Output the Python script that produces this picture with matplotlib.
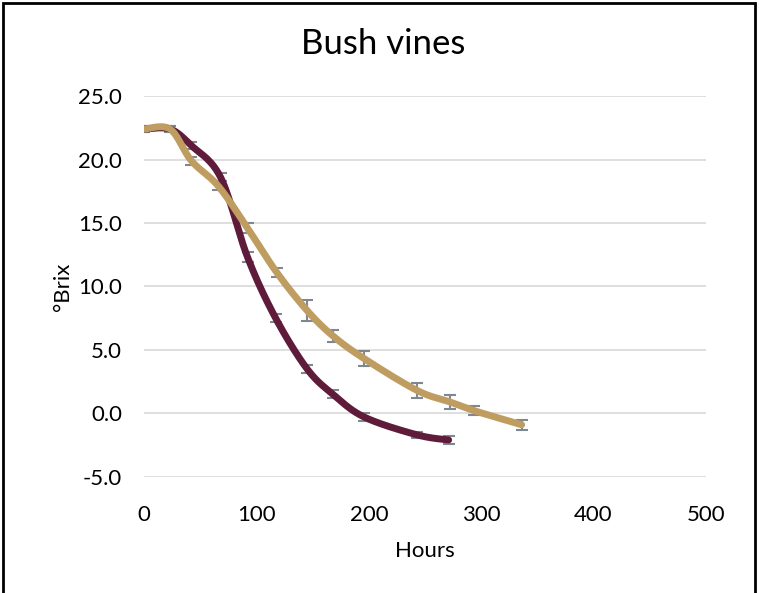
import numpy as np
import matplotlib.pyplot as plt
from matplotlib.patches import Rectangle

# -----------------------------
# DATA
# -----------------------------
hours_dark = [0, 23, 42, 68, 92, 117, 145, 168, 196, 243, 271]
brix_dark = [22.4, 22.4, 21.1, 18.6, 12.3, 7.5, 3.5, 1.5, -0.3, -1.7, -2.1]
err_dark = [0.25, 0.25, 0.3, 0.3, 0.4, 0.3, 0.3, 0.3, 0.3, 0.25, 0.3]

hours_gold = [0, 23, 42, 66, 92, 118, 145, 168, 196, 243, 272, 294, 336]
brix_gold = [22.4, 22.4, 19.9, 17.9, 14.6, 11.1, 8.1, 6.1, 4.3, 1.8, 0.9, 0.2, -0.9]
err_gold = [0.25, 0.25, 0.3, 0.3, 0.4, 0.35, 0.8, 0.5, 0.6, 0.6, 0.55, 0.35, 0.4]

x_ticks = [0, 100, 200, 300, 400, 500]
y_ticks = [-5, 0, 5, 10, 15, 20, 25]

DARK = "#5e1c3a"
GOLD = "#bf9d60"
ERR = "#7f8891"

plt.rcParams["font.family"] = ["Lato", "DejaVu Sans"]


def smooth(xs, ys, n=30):
    # Bezier smoothing through every point (control = P1 + (P2 - P0) / 6)
    p = np.column_stack([xs, ys]).astype(float)
    ext = np.vstack([p[0], p, p[-1]])
    out = []
    t = np.linspace(0, 1, n)[:, None]
    for i in range(1, len(ext) - 2):
        p0, p1, p2, p3 = ext[i - 1], ext[i], ext[i + 1], ext[i + 2]
        c1 = p1 + (p2 - p0) / 6
        c2 = p2 - (p3 - p1) / 6
        seg = ((1 - t) ** 3) * p1 + 3 * ((1 - t) ** 2) * t * c1 \
            + 3 * (1 - t) * t ** 2 * c2 + t ** 3 * p2
        out.append(seg)
    out = np.vstack(out)
    return out[:, 0], out[:, 1]


fig = plt.figure(figsize=(7.59, 5.93), dpi=100)
ax = fig.add_axes([0.19, 0.196, 0.74, 0.642])

for y in y_ticks:
    ax.axhline(y, color="#d9d9d9", lw=1.2, zorder=0)

for hrs, brix, err, col in [(hours_dark, brix_dark, err_dark, DARK),
                            (hours_gold, brix_gold, err_gold, GOLD)]:
    ax.errorbar(hrs, brix, yerr=err, fmt="none", ecolor=ERR,
                elinewidth=1.5, capsize=4, capthick=1.5, zorder=2)
    sx, sy = smooth(hrs, brix)
    ax.plot(sx, sy, color=col, lw=5, solid_capstyle="round", zorder=3)

ax.set_xlim(0, 500)
ax.set_ylim(-5, 25)
ax.set_xticks(x_ticks)
ax.set_yticks(y_ticks)
ax.set_yticklabels([f"{v:.1f}" for v in y_ticks])
ax.tick_params(length=0, labelsize=16)
ax.tick_params(axis="x", pad=20)
ax.tick_params(axis="y", pad=16)
for s in ax.spines.values():
    s.set_visible(False)

ax.set_xlabel("Hours", fontsize=16, labelpad=12)
ax.set_ylabel("°Brix", fontsize=16, labelpad=4)
fig.text(0.505, 0.925, "Bush vines", ha="center", va="center", fontsize=25)

# outer frame
fig.patches.append(Rectangle((3 / 759, -0.05), 752 / 759, 1.05 - 3 / 593,
                             transform=fig.transFigure, fill=False,
                             edgecolor="black", lw=2))

fig.savefig("out.png", dpi=100)
